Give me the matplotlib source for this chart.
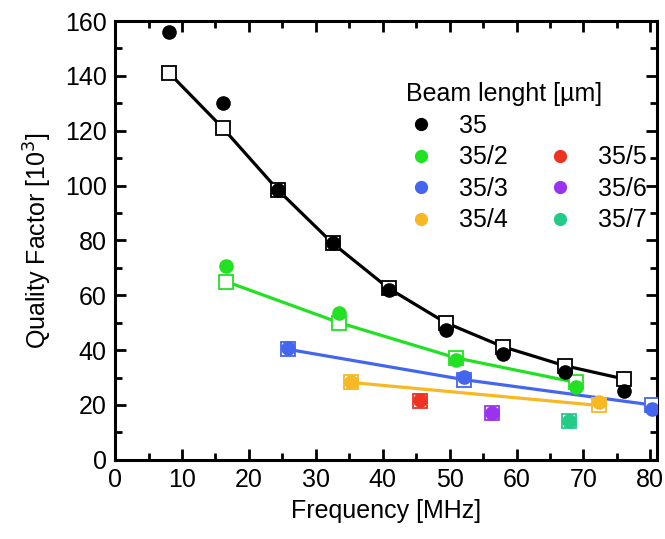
import matplotlib
matplotlib.use("Agg")
import matplotlib.pyplot as plt
from matplotlib.lines import Line2D
from matplotlib.ticker import MultipleLocator

plt.rcParams['font.family'] = ['Liberation Sans', 'DejaVu Sans']

# Beam length series: frequency [MHz], measured Q (circles), simulated Q (squares)
freq_1 = [8.1, 16.1, 24.3, 32.5, 40.9, 49.4, 58.0, 67.2, 76.0]
meas_1 = [156, 130, 98.5, 79, 62, 47.5, 38.7, 32, 25.2]
sim_1 = [141, 121, 98.5, 79, 62.5, 50, 41.2, 34.3, 29.5]

freq_2 = [16.6, 33.5, 50.9, 68.9]
meas_2 = [70.5, 53.6, 36.5, 26.6]
sim_2 = [65, 50, 37.2, 28.2]

freq_3 = [25.8, 52.2, 80.2]
meas_3 = [40.8, 30.3, 18.6]
sim_3 = [40.3, 29.2, 20.0]

freq_4 = [35.3, 72.3]
meas_4 = [28.2, 21.2]
sim_4 = [28.2, 19.8]

freq_5 = [45.6]
meas_5 = [21.9]
sim_5 = [21.5]

freq_6 = [56.3]
meas_6 = [17.2]
sim_6 = [17.2]

freq_7 = [67.9]
meas_7 = [14.2]
sim_7 = [14.2]

labels = ["35", "35/2", "35/3", "35/4", "35/5", "35/6", "35/7"]
colors = ["#000000", "#22e022", "#4466ee", "#f7b824", "#ee3322", "#9933ee", "#22cc88"]

series = [
    (freq_1, meas_1, sim_1),
    (freq_2, meas_2, sim_2),
    (freq_3, meas_3, sim_3),
    (freq_4, meas_4, sim_4),
    (freq_5, meas_5, sim_5),
    (freq_6, meas_6, sim_6),
    (freq_7, meas_7, sim_7),
]

fig = plt.figure(figsize=(6.65, 5.39), dpi=100)
ax = fig.add_axes([0.173, 0.147, 0.815, 0.814])

ms = 9.5
for (f, m, s), c in zip(series, colors):
    if len(f) > 1:
        ax.plot(f, s, color=c, lw=2.3, zorder=2)
    ax.plot(f, s, linestyle='none', marker='s', markersize=ms,
            markerfacecolor='white', markeredgecolor=c, markeredgewidth=1.3, zorder=3)
    ax.plot(f, m, linestyle='none', marker='o', markersize=ms,
            color=c, zorder=4)

ax.set_xlim(0, 81)
ax.set_ylim(0, 160)
ax.xaxis.set_major_locator(MultipleLocator(10))
ax.xaxis.set_minor_locator(MultipleLocator(5))
ax.yaxis.set_major_locator(MultipleLocator(20))
ax.yaxis.set_minor_locator(MultipleLocator(10))

for sp in ax.spines.values():
    sp.set_linewidth(2.2)

ax.tick_params(which='both', direction='in', top=True, right=True, width=2.0,
               labelsize=18, pad=6)
ax.tick_params(which='major', length=8)
ax.tick_params(which='minor', length=5)

ax.set_xlabel("Frequency [MHz]", fontsize=18, labelpad=5)
ax.set_ylabel(r"Quality Factor [10$^3$]", fontsize=18, labelpad=8)

# Legend: two columns, the second one starting on the second row
handles = [Line2D([], [], linestyle='none', marker='o', markersize=8.5, color=c)
           for c in colors]
blank = Line2D([], [], linestyle='none', marker=None)
leg_handles = handles[:4] + [blank] + handles[4:]
leg_labels = labels[:4] + [""] + labels[4:]
leg = ax.legend(leg_handles, leg_labels, title="Beam lenght [\u00b5m]", ncol=2,
                fontsize=18, title_fontsize=18, frameon=False,
                loc='upper right', bbox_to_anchor=(1.013, 0.9),
                handlelength=1.2, handletextpad=0.9, columnspacing=1.5,
                labelspacing=0.3, borderpad=0.2)
leg._legend_box.align = "left"

fig.savefig("out.png", dpi=100)
